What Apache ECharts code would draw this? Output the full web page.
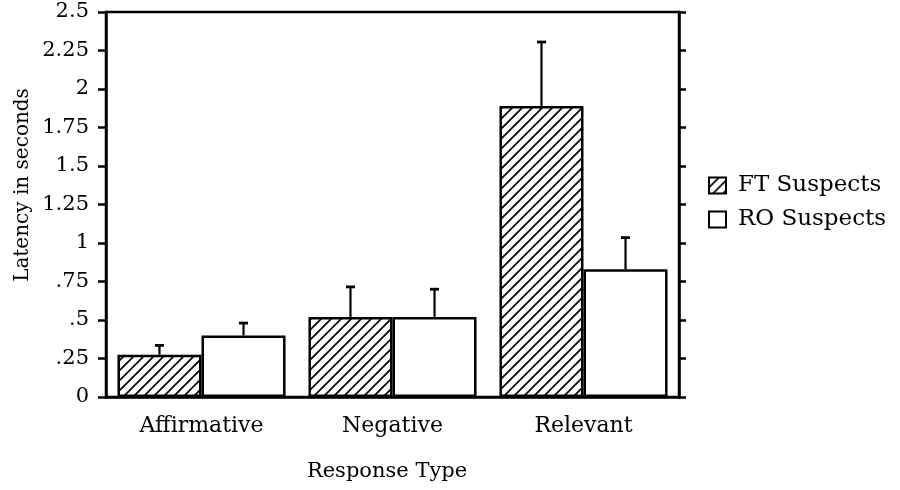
<!DOCTYPE html>
<html>
<head>
<meta charset="utf-8">
<script src="https://cdn.jsdelivr.net/npm/echarts@6/dist/echarts.min.js"></script>
<style>html,body{margin:0;padding:0;background:#fff;}#c{width:900px;height:490px;}</style>
</head>
<body>
<div id="c"></div>
<script>
const categories = ['Affirmative', 'Negative', 'Relevant'];
const seriesNames = ['FT Suspects', 'RO Suspects'];
const ftMeans = [0.275, 0.52, 1.89];
const ftErrors = [0.06, 0.195, 0.415];
const roMeans = [0.40, 0.52, 0.83];
const roErrors = [0.08, 0.18, 0.205];
const yTicks = [0, 0.25, 0.5, 0.75, 1, 1.25, 1.5, 1.75, 2, 2.25, 2.5];
const yTitle = 'Latency in seconds';
const xTitle = 'Response Type';

const FONT = 'DejaVu Serif';
const GAP = 0.12;

function hatch() {
  const s = 10;
  const cv = document.createElement('canvas');
  cv.width = s; cv.height = s;
  const ctx = cv.getContext('2d');
  ctx.fillStyle = '#fff';
  ctx.fillRect(0, 0, s, s);
  ctx.strokeStyle = '#000';
  ctx.lineWidth = 1.7;
  ctx.beginPath();
  ctx.moveTo(0, s); ctx.lineTo(s, 0);
  ctx.moveTo(-2, 2); ctx.lineTo(2, -2);
  ctx.moveTo(s - 2, s + 2); ctx.lineTo(s + 2, s - 2);
  ctx.stroke();
  return { image: cv, repeat: 'repeat' };
}
const hatchFill = hatch();

function fmt(v) {
  if (v === 0) return '0';
  let s = String(v);
  if (v < 1) s = s.replace(/^0/, '');
  return s;
}

function errSeries(means, errs, sign) {
  return {
    type: 'custom',
    z: 5,
    silent: true,
    data: means.map((m, i) => [i, m, m + errs[i]]),
    renderItem: function (params, api) {
      const i = api.value(0);
      const base = api.coord([i, api.value(1)]);
      const top = api.coord([i, api.value(2)]);
      const band = api.size([1, 0])[0];
      const off = sign * band * (1 - GAP) / 4;
      const x = base[0] + off;
      return {
        type: 'group',
        children: [
          { type: 'line', shape: { x1: x, y1: base[1], x2: x, y2: top[1] }, style: { stroke: '#000', lineWidth: 2.2 } },
          { type: 'line', shape: { x1: x - 4.5, y1: top[1], x2: x + 4.5, y2: top[1] }, style: { stroke: '#000', lineWidth: 2.8 } }
        ]
      };
    }
  };
}

const yMin = yTicks[0], yMax = yTicks[yTicks.length - 1], yStep = yTicks[1] - yTicks[0];

const chart = echarts.init(document.getElementById('c'), null, { renderer: 'canvas' });
chart.setOption({
  animation: false,
  backgroundColor: '#fff',
  grid: { left: 106, right: 221, top: 12, bottom: 93, show: true, borderColor: '#000', borderWidth: 2.5, backgroundColor: 'transparent' },
  legend: {
    orient: 'vertical',
    left: 703,
    top: 169,
    itemWidth: 17,
    itemHeight: 16,
    itemGap: 11,
    icon: 'rect',
    data: seriesNames,
    textStyle: { fontFamily: FONT, fontSize: 23, color: '#000', padding: [0, 0, 0, 7] }
  },
  xAxis: {
    type: 'category',
    data: categories,
    axisLine: { lineStyle: { color: '#000', width: 2.5 } },
    axisTick: { alignWithLabel: true, length: 5, lineStyle: { color: '#000', width: 2 } },
    axisLabel: { fontFamily: FONT, fontSize: 22, color: '#000', margin: 18 },
    splitLine: { show: false }
  },
  yAxis: [
    {
      type: 'value', min: yMin, max: yMax, interval: yStep,
      axisLine: { show: true, lineStyle: { color: '#000', width: 2.5 } },
      axisTick: { show: true, length: 8, lineStyle: { color: '#000', width: 2.5 } },
      axisLabel: { fontFamily: FONT, fontSize: 21, color: '#000', margin: 17, formatter: fmt },
      splitLine: { show: false }
    },
    {
      type: 'value', min: yMin, max: yMax, interval: yStep, position: 'right',
      axisLine: { show: true, lineStyle: { color: '#000', width: 2.5 } },
      axisTick: { show: true, length: 7, lineStyle: { color: '#000', width: 2.5 } },
      axisLabel: { show: false },
      splitLine: { show: false }
    }
  ],
  series: [
    {
      name: seriesNames[0], type: 'bar', data: ftMeans, barGap: '0%', barCategoryGap: (GAP * 100) + '%',
      itemStyle: { color: hatchFill, borderColor: '#000', borderWidth: 2.5 }
    },
    {
      name: seriesNames[1], type: 'bar', data: roMeans,
      itemStyle: { color: '#fff', borderColor: '#000', borderWidth: 2.5 }
    },
    errSeries(ftMeans, ftErrors, -1),
    errSeries(roMeans, roErrors, 1)
  ],
  graphic: [
    { type: 'text', x: 23, y: 185, rotation: Math.PI / 2, style: { text: yTitle, fontFamily: FONT, fontSize: 20, fill: '#000', align: 'center', verticalAlign: 'middle' } },
    { type: 'text', x: 387, y: 472, style: { text: xTitle, fontFamily: FONT, fontSize: 21, fill: '#000', align: 'center', verticalAlign: 'middle' } }
  ]
});
</script>
</body>
</html>
